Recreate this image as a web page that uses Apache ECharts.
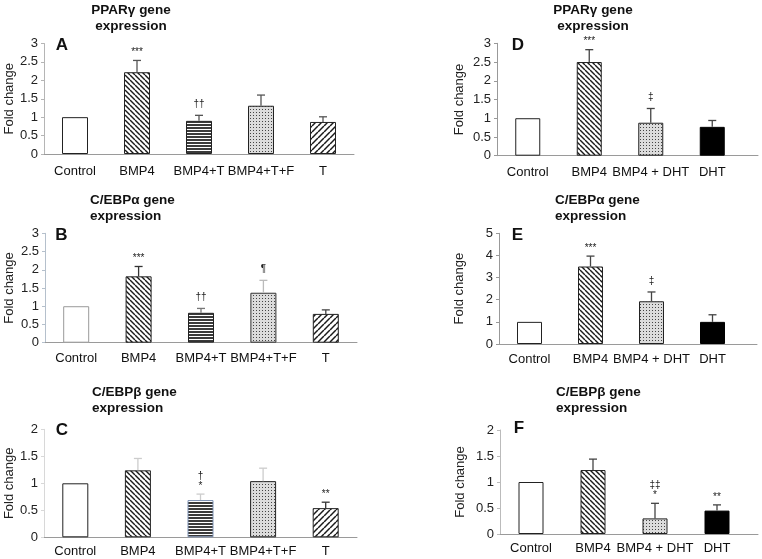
<!DOCTYPE html>
<html><head><meta charset="utf-8">
<script src="https://cdn.jsdelivr.net/npm/echarts@6/dist/echarts.min.js"></script>
<style>html,body{margin:0;padding:0;background:#fff}#c{width:762px;height:559px}</style>
</head><body><div id="c"></div>
<script>
// ---------- DATA ----------
const catsT = ['Control', 'BMP4', 'BMP4+T', 'BMP4+T+F', 'T'];
const catsDHT = ['Control', 'BMP4', 'BMP4 + DHT', 'DHT'];

const pparT = [1.0, 2.22, 0.90, 1.31, 0.87];
const pparTSe = [0, 0.32, 0.15, 0.29, 0.14];
const pparTSig = ['', '***', '††', '', ''];

const cebpaT = [1.0, 1.82, 0.82, 1.37, 0.79];
const cebpaTSe = [0, 0.27, 0.12, 0.34, 0.11];
const cebpaTSig = ['', '***', '††', '¶', ''];

const cebpbT = [1.0, 1.24, 0.69, 1.04, 0.54];
const cebpbTSe = [0, 0.22, 0.11, 0.24, 0.11];
const cebpbTSig = ['', '', '†\n*', '', '**'];

const pparDHT = [1.0, 2.5, 0.88, 0.77];
const pparDHTSe = [0, 0.33, 0.38, 0.17];
const pparDHTSig = ['', '***', '‡', ''];

const cebpaDHT = [1.0, 3.5, 1.93, 1.0];
const cebpaDHTSe = [0, 0.47, 0.42, 0.32];
const cebpaDHTSig = ['', '***', '‡', ''];

const cebpbDHT = [1.0, 1.23, 0.30, 0.45];
const cebpbDHTSe = [0, 0.21, 0.29, 0.11];
const cebpbDHTSig = ['', '', '‡‡\n*', '**'];

const titles = ['PPARγ gene', 'C/EBPα gene', 'C/EBPβ gene'];
const titleLine2 = 'expression';
const panelLetters = ['A', 'B', 'C', 'D', 'E', 'F'];
const yName = 'Fold change';

// ---------- STYLE ----------
const FONT = '"Liberation Sans", Arial, Helvetica, sans-serif';

function pattern(kind) {
  if (kind === 'none') return '#ffffff';
  if (kind === 'solid') return '#000000';
  const c = document.createElement('canvas');
  const ctx = c.getContext('2d');
  if (kind === 'back' || kind === 'fwd') {
    const s = kind === 'back' ? 5 : 6;
    c.width = c.height = s;
    ctx.fillStyle = '#fff'; ctx.fillRect(0, 0, s, s);
    ctx.strokeStyle = '#1a1a1a'; ctx.lineWidth = kind === 'back' ? 1.4 : 1.5;
    for (const k of [-s, 0, s]) {
      ctx.beginPath();
      if (kind === 'back') { ctx.moveTo(k, 0); ctx.lineTo(k + s, s); }
      else { ctx.moveTo(k, s); ctx.lineTo(k + s, 0); }
      ctx.stroke();
    }
  } else if (kind === 'horiz') {
    c.width = 4; c.height = 3;
    ctx.fillStyle = '#fff'; ctx.fillRect(0, 0, 4, 3);
    ctx.fillStyle = '#3a3a3a'; ctx.fillRect(0, 1, 4, 2);
  } else if (kind === 'dots') {
    c.width = 3; c.height = 3;
    ctx.fillStyle = '#dcdcdc'; ctx.fillRect(0, 0, 3, 3);
    ctx.fillStyle = '#444'; ctx.fillRect(1, 1, 1, 1);
  }
  return { image: c, repeat: 'repeat' };
}
const patT = ['none', 'back', 'horiz', 'dots', 'fwd'];
const patDHT = ['none', 'back', 'dots', 'solid'];

// value x-axis for right panels: spacing in px per category, axis line runs to grid right edge
const panels = [
  { cats: catsT, vals: pparT, se: pparTSe, sig: pparTSig, pats: patT,
    grid: { left: 44, top: 43.5, width: 310, height: 110.5 }, max: 3, interval: 0.5, barWidth: 26,
    nameGap: 28, labelMargin: 11, yColor: '#b5b5b5',
    border: ['#222', '#222', '#222', '#222', '#222'], err: ['#444', '#555', '#555', '#555', '#555'] },
  { cats: catsT, vals: cebpaT, se: cebpaTSe, sig: cebpaTSig, pats: patT,
    grid: { left: 45, top: 233.3, width: 312, height: 109.4 }, max: 3, interval: 0.5, barWidth: 26,
    nameGap: 29, labelMargin: 9, yColor: '#b5c0cc',
    border: ['#999', '#222', '#222', '#333', '#222'], err: ['#444', '#333', '#777', '#bbb', '#444'] },
  { cats: catsT, vals: cebpbT, se: cebpbTSe, sig: cebpbTSig, pats: patT,
    grid: { left: 44, top: 429.3, width: 313, height: 108 }, max: 2, interval: 0.5, barWidth: 26,
    nameGap: 28, labelMargin: 8, yColor: '#d8d8d8',
    border: ['#222', '#222', '#7f93b5', '#222', '#222'], err: ['#444', '#ccc', '#ccc', '#ccc', '#333'] },
  { cats: catsDHT, vals: pparDHT, se: pparDHTSe, sig: pparDHTSig, pats: patDHT, valueX: true, spacing: 61.5,
    grid: { left: 497, top: 43.3, width: 261, height: 112.4 }, max: 3, interval: 0.5, barWidth: 25,
    nameGap: 31, labelMargin: 10, yColor: '#999',
    border: ['#222', '#222', '#222', '#000'], err: ['#444', '#444', '#444', '#444'] },
  { cats: catsDHT, vals: cebpaDHT, se: cebpaDHTSe, sig: cebpaDHTSig, pats: patDHT, valueX: true, spacing: 61,
    grid: { left: 499, top: 233.3, width: 258, height: 110.7 }, max: 5, interval: 1, barWidth: 25,
    nameGap: 33, labelMargin: 9, yColor: '#999',
    border: ['#222', '#222', '#222', '#000'], err: ['#444', '#444', '#444', '#444'] },
  { cats: catsDHT, vals: cebpbDHT, se: cebpbDHTSe, sig: cebpbDHTSig, pats: patDHT, valueX: true, spacing: 62,
    grid: { left: 500, top: 430, width: 258, height: 104 }, max: 2, interval: 0.5, barWidth: 25,
    nameGap: 33, labelMargin: 8, yColor: '#bbb',
    border: ['#222', '#222', '#222', '#000'], err: ['#444', '#444', '#444', '#444'] }
];

const option = { animation: false, backgroundColor: '#fff', grid: [], xAxis: [], yAxis: [], series: [], graphic: [] };

panels.forEach((p, k) => {
  option.grid.push(Object.assign({ containLabel: false }, p.grid));
  const labelStyle = { interval: 0, margin: p.labelMargin, fontSize: 13, color: '#111', fontFamily: FONT };
  if (p.valueX) {
    const idx = p.cats.map((c, i) => i);
    option.xAxis.push({
      type: 'value', gridIndex: k, min: -0.5, max: -0.5 + p.grid.width / p.spacing,
      splitLine: { show: false }, axisTick: { show: false },
      axisLine: { show: true, onZero: false, lineStyle: { color: '#9a9a9a', width: 1 } },
      axisLabel: Object.assign({}, labelStyle, { customValues: idx, formatter: v => p.cats[Math.round(v)] || '' })
    });
  } else {
    option.xAxis.push({
      type: 'category', gridIndex: k, data: p.cats,
      axisTick: { show: false },
      axisLine: { lineStyle: { color: '#9a9a9a', width: 1 } },
      axisLabel: labelStyle
    });
  }
  option.yAxis.push({
    type: 'value', gridIndex: k, min: 0, max: p.max, interval: p.interval,
    splitLine: { show: false },
    axisLine: { show: true, onZero: false, lineStyle: { color: p.yColor } },
    axisTick: { show: true, length: 3, lineStyle: { color: p.yColor } },
    axisLabel: { margin: 6, fontSize: 13, color: '#222', fontFamily: FONT },
    name: yName, nameLocation: 'middle', nameRotate: 90, nameGap: p.nameGap,
    nameTextStyle: { fontSize: 13, color: '#222', fontFamily: FONT }
  });
  option.series.push({
    type: 'bar', xAxisIndex: k, yAxisIndex: k, barWidth: p.barWidth,
    data: p.vals.map((v, i) => ({
      value: p.valueX ? [i, v] : v,
      itemStyle: { color: pattern(p.pats[i]), borderColor: p.border[i], borderWidth: 1 }
    }))
  });
  option.series.push({
    type: 'custom', xAxisIndex: k, yAxisIndex: k, z: 5,
    data: p.vals.map((v, i) => [i, v + p.se[i]]),
    encode: { x: 0, y: 1 },
    renderItem: (params, api) => {
      const i = params.dataIndex;
      const children = [];
      const base = api.coord([i, p.vals[i]]);
      const top = api.coord([i, p.vals[i] + p.se[i]]);
      if (p.se[i] > 0) {
        const col = p.err[i];
        children.push({ type: 'line', shape: { x1: base[0], y1: base[1], x2: top[0], y2: top[1] }, style: { stroke: col, lineWidth: 1.3 } });
        children.push({ type: 'line', shape: { x1: top[0] - 4, y1: top[1], x2: top[0] + 4, y2: top[1] }, style: { stroke: col, lineWidth: 1.3 } });
      }
      if (p.sig[i]) {
        const endsStar = p.sig[i].slice(-1) === '*';
        children.push({ type: 'text', x: top[0], y: top[1] - (endsStar ? 3 : 6),
          style: { text: p.sig[i], align: 'center', verticalAlign: 'bottom', fontSize: 10, lineHeight: 10, fontFamily: FONT, fill: '#222' } });
      }
      return { type: 'group', children };
    }
  });
});

// titles and panel letters
function gtext(txt, x, y, size, align) {
  option.graphic.push({ type: 'text', x, y, silent: true,
    style: { text: txt, fontSize: size, fontWeight: 'bold', fontFamily: FONT, fill: '#111', align, verticalAlign: 'middle' } });
}
gtext(titles[0], 131, 10, 13.5, 'center'); gtext(titleLine2, 131, 26, 13.5, 'center');
gtext(titles[0], 593, 10, 13.5, 'center'); gtext(titleLine2, 593, 26, 13.5, 'center');
gtext(titles[1], 90, 200, 13.5, 'left'); gtext(titleLine2, 90, 216, 13.5, 'left');
gtext(titles[1], 555, 200, 13.5, 'left'); gtext(titleLine2, 555, 216, 13.5, 'left');
gtext(titles[2], 92, 392.5, 13.5, 'left'); gtext(titleLine2, 92, 408.5, 13.5, 'left');
gtext(titles[2], 556, 392.5, 13.5, 'left'); gtext(titleLine2, 556, 408.5, 13.5, 'left');
gtext(panelLetters[0], 62, 45, 17, 'center');
gtext(panelLetters[1], 61.5, 235.5, 17, 'center');
gtext(panelLetters[2], 62, 430.5, 17, 'center');
gtext(panelLetters[3], 518, 45, 17, 'center');
gtext(panelLetters[4], 517.5, 235.5, 17, 'center');
gtext(panelLetters[5], 519, 428.5, 17, 'center');

const chart = echarts.init(document.getElementById('c'), null, { renderer: 'canvas' });
chart.setOption(option);
</script>
</body></html>
